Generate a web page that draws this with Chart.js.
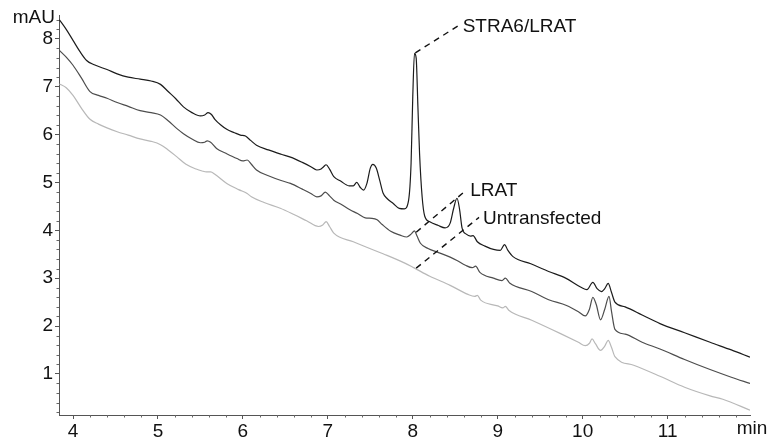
<!DOCTYPE html>
<html><head><meta charset="utf-8">
<script src="https://cdn.jsdelivr.net/npm/chart.js@4.4.1/dist/chart.umd.min.js"></script>
<style>html,body{margin:0;padding:0;background:#fff;overflow:hidden}</style>
</head><body>
<canvas id="c" width="770" height="445"></canvas>
<script>
// ---- data ----
const xTicks = [4, 5, 6, 7, 8, 9, 10, 11];
const yTicks = [1, 2, 3, 4, 5, 6, 7, 8];
const seriesNames = ['STRA6/LRAT', 'LRAT', 'Untransfected'];

const timesStra6 = [3.84,3.92,4.00,4.08,4.16,4.25,4.40,4.52,4.65,4.79,4.92,5.03,5.12,5.21,5.30,5.40,5.50,5.55,5.59,5.63,5.67,5.74,5.81,5.90,5.97,6.03,6.09,6.16,6.30,6.45,6.56,6.70,6.80,6.87,6.92,6.95,6.98,7.02,7.07,7.15,7.25,7.30,7.34,7.38,7.42,7.46,7.50,7.53,7.57,7.61,7.65,7.70,7.77,7.84,7.90,7.95,7.98,8.00,8.02,8.04,8.06,8.08,8.11,8.14,8.20,8.30,8.38,8.44,8.48,8.52,8.55,8.58,8.63,8.68,8.71,8.76,8.85,8.95,9.03,9.08,9.12,9.18,9.39,9.60,9.80,9.98,10.05,10.12,10.17,10.22,10.26,10.30,10.34,10.38,10.50,10.70,10.91,11.20,11.50,11.75,11.97];
const valuesStra6 = [8.40,8.20,7.97,7.74,7.55,7.46,7.36,7.27,7.20,7.16,7.12,7.05,6.90,6.75,6.58,6.46,6.39,6.41,6.46,6.42,6.32,6.20,6.11,6.04,5.99,5.97,5.88,5.78,5.68,5.59,5.53,5.42,5.33,5.26,5.28,5.33,5.37,5.28,5.12,5.03,4.93,4.93,5.00,4.90,4.84,4.98,5.30,5.38,5.30,5.05,4.78,4.66,4.56,4.46,4.45,4.62,5.40,6.80,7.70,7.60,6.60,5.60,4.70,4.30,4.18,4.10,4.05,4.15,4.45,4.67,4.45,4.05,3.92,3.88,3.89,3.76,3.67,3.60,3.58,3.70,3.58,3.45,3.30,3.14,3.00,2.81,2.76,2.91,2.78,2.72,2.78,2.89,2.70,2.50,2.40,2.23,2.05,1.86,1.66,1.50,1.35];

const timesLrat = [3.84,3.92,4.00,4.10,4.20,4.30,4.40,4.52,4.65,4.79,4.92,5.03,5.12,5.22,5.30,5.40,5.50,5.55,5.58,5.62,5.69,5.80,5.93,6.00,6.05,6.10,6.16,6.30,6.45,6.56,6.70,6.80,6.87,6.92,6.97,7.02,7.07,7.15,7.26,7.35,7.44,7.52,7.58,7.64,7.74,7.85,7.93,7.98,8.02,8.05,8.09,8.18,8.28,8.44,8.52,8.62,8.70,8.74,8.79,8.95,9.05,9.09,9.14,9.40,9.60,9.81,9.95,10.03,10.08,10.12,10.16,10.21,10.26,10.31,10.34,10.38,10.50,10.70,10.91,11.20,11.50,11.75,11.97];
const valuesLrat = [7.76,7.62,7.45,7.18,6.90,6.82,6.76,6.67,6.59,6.50,6.46,6.41,6.29,6.13,6.02,5.91,5.83,5.84,5.87,5.84,5.71,5.61,5.50,5.45,5.47,5.38,5.26,5.14,5.04,4.98,4.86,4.77,4.70,4.72,4.80,4.72,4.63,4.55,4.43,4.35,4.26,4.25,4.22,4.12,3.98,3.90,3.86,3.92,3.99,3.88,3.73,3.62,3.55,3.44,3.37,3.27,3.22,3.25,3.12,3.00,2.95,3.00,2.90,2.72,2.55,2.43,2.30,2.21,2.35,2.60,2.45,2.13,2.35,2.62,2.30,1.93,1.83,1.66,1.52,1.30,1.09,0.93,0.80];

const timesUntr = [3.84,3.92,4.00,4.10,4.20,4.30,4.40,4.52,4.65,4.79,4.92,5.03,5.12,5.22,5.33,5.45,5.52,5.57,5.62,5.67,5.81,5.95,6.05,6.10,6.25,6.44,6.60,6.75,6.89,6.94,6.98,7.02,7.07,7.30,7.65,7.90,8.01,8.20,8.44,8.65,8.73,8.76,8.80,9.00,9.06,9.09,9.13,9.40,9.74,9.95,10.03,10.08,10.11,10.15,10.21,10.26,10.30,10.34,10.38,10.60,10.91,11.20,11.50,11.65,11.97];
const valuesUntr = [7.06,6.98,6.82,6.55,6.32,6.22,6.14,6.06,5.99,5.91,5.86,5.79,5.68,5.54,5.38,5.28,5.24,5.22,5.22,5.17,4.98,4.85,4.77,4.70,4.58,4.46,4.33,4.20,4.08,4.11,4.18,4.08,3.94,3.76,3.51,3.32,3.22,3.04,2.85,2.66,2.62,2.64,2.54,2.42,2.38,2.41,2.33,2.12,1.84,1.66,1.59,1.64,1.73,1.63,1.49,1.58,1.70,1.55,1.36,1.18,0.95,0.72,0.54,0.47,0.24];

// leader annotations: [start time, start value, end time, end value]
const leaderStra6 = [8.03, 7.71, 8.54, 8.28];
const leaderLrat  = [8.04, 3.96, 8.63, 4.84];
const leaderUntr  = [8.04, 3.21, 8.78, 4.27];

// ---- styles / layout ----
const FONT = '"Liberation Sans", Arial, sans-serif';
const colors = ['#1c1c1c', '#4d4d4d', '#b8b8b8'];
const X_MIN = 3.835, X_MAX = 11.97, Y_MIN = 0.14, Y_MAX = 8.5;

function pts(t, v) { return t.map((x, i) => ({ x: x, y: v[i] })); }

const decorPlugin = {
  id: 'decor',
  afterDraw(chart) {
    const ctx = chart.ctx, xs = chart.scales.x, ys = chart.scales.y, ca = chart.chartArea;
    ctx.save();
    // minor ticks
    ctx.strokeStyle = '#666'; ctx.lineWidth = 1;
    ctx.beginPath();
    for (let k = Math.ceil(X_MIN * 5); k <= Math.floor(X_MAX * 5); k++) {
      if (k % 5 === 0) continue;
      const px = Math.round(xs.getPixelForValue(k / 5)) + 0.5;
      ctx.moveTo(px, ca.bottom); ctx.lineTo(px, ca.bottom + 2.5);
    }
    for (let k = Math.ceil(Y_MIN * 5); k <= Math.floor(Y_MAX * 5); k++) {
      if (k % 5 === 0) continue;
      const py = Math.round(ys.getPixelForValue(k / 5)) + 0.5;
      ctx.moveTo(ca.left, py); ctx.lineTo(ca.left - 2.5, py);
    }
    ctx.stroke();
    // unit labels
    ctx.fillStyle = '#111';
    ctx.font = '19px ' + FONT;
    ctx.textBaseline = 'middle';
    ctx.textAlign = 'right';
    ctx.fillText('mAU', ca.left - 4, ca.top + 3);
    ctx.textAlign = 'center';
    ctx.fillText('min', ca.right + 2, ca.bottom + 14);
    // leaders + labels
    const leaders = [leaderStra6, leaderLrat, leaderUntr];
    ctx.setLineDash([6, 5]);
    ctx.lineWidth = 1.4;
    ctx.strokeStyle = '#111';
    leaders.forEach((L, i) => {
      const x0 = xs.getPixelForValue(L[0]), y0 = ys.getPixelForValue(L[1]);
      const x1 = xs.getPixelForValue(L[2]), y1 = ys.getPixelForValue(L[3]);
      ctx.beginPath(); ctx.moveTo(x0, y0); ctx.lineTo(x1, y1); ctx.stroke();
      ctx.textAlign = 'left';
      ctx.fillText(seriesNames[i], x1 + 4, y1 + 1);
    });
    ctx.restore();
  }
};

new Chart(document.getElementById('c'), {
  type: 'line',
  data: {
    datasets: [
      { label: seriesNames[0], data: pts(timesStra6, valuesStra6), borderColor: colors[0] },
      { label: seriesNames[1], data: pts(timesLrat, valuesLrat), borderColor: colors[1] },
      { label: seriesNames[2], data: pts(timesUntr, valuesUntr), borderColor: colors[2] }
    ].map(d => Object.assign(d, { borderWidth: 1.2, pointRadius: 0, fill: false, cubicInterpolationMode: 'monotone' }))
  },
  options: {
    responsive: false,
    animation: false,
    devicePixelRatio: 1,
    layout: { padding: { left: 0, right: 20, top: 15, bottom: 0 } },
    plugins: { legend: { display: false }, tooltip: { enabled: false } },
    scales: {
      x: {
        type: 'linear', min: X_MIN, max: X_MAX,
        afterBuildTicks: s => { s.ticks = xTicks.map(v => ({ value: v })); },
        afterFit: s => { s.height = 30; },
        border: { display: true, color: '#555', width: 1 },
        grid: { drawOnChartArea: false, drawTicks: true, tickLength: 4, tickColor: '#555' },
        ticks: { color: '#111', font: { family: FONT, size: 19 }, padding: 1, maxRotation: 0, autoSkip: false }
      },
      y: {
        type: 'linear', min: Y_MIN, max: Y_MAX,
        afterBuildTicks: s => { s.ticks = yTicks.map(v => ({ value: v })); },
        afterFit: s => { s.width = 59; },
        border: { display: true, color: '#555', width: 1 },
        grid: { drawOnChartArea: false, drawTicks: true, tickLength: 4, tickColor: '#555' },
        ticks: { color: '#111', font: { family: FONT, size: 19 }, padding: 2, autoSkip: false }
      }
    }
  },
  plugins: [decorPlugin]
});
</script>
</body></html>
